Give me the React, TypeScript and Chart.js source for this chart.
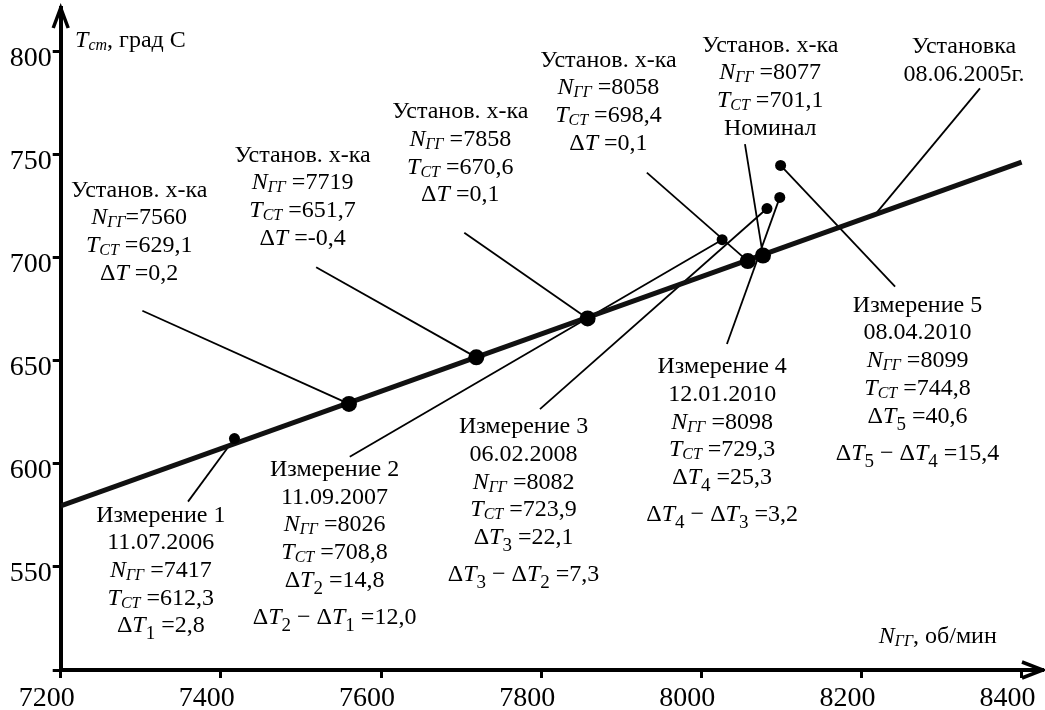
import React, { useEffect, useRef } from 'react';
import { Chart, registerables } from 'chart.js';

Chart.register(...registerables);

// ---- axes ----
const X_MIN = 7200;
const X_MAX = 8426.7;
const Y_MIN = 500;
const Y_MAX = 821.2;
const xTickValues = [7200, 7400, 7600, 7800, 8000, 8200, 8400];
const yTickValues = [500, 550, 600, 650, 700, 750, 800];

// ---- baseline characteristic "Установка 08.06.2005г." ----
const baseN = [7200, 8400];
const baseT = [579.6, 746.4];
const installTitle = ['Установка', '08.06.2005г.'];
const installLeadN = 8217;

// ---- "Установ. х-ка" points ----
const setN = [7560, 7719, 7858, 8058, 8077];
const setT = [629.1, 651.7, 670.6, 698.4, 701.1];
const setDT: (number | null)[] = [0.2, -0.4, 0.1, 0.1, null];

// ---- measurements ----
const measDates = ['11.07.2006', '11.09.2007', '06.02.2008', '12.01.2010', '08.04.2010'];
const measN = [7417, 8026, 8082, 8098, 8099];
const measT = [612.3, 708.8, 723.9, 729.3, 744.8];
const measDT = [2.8, 14.8, 22.1, 25.3, 40.6];
const measDiff: (number | null)[] = [null, 12.0, 7.3, 3.2, 15.4];

// ---- annotation anchors (data units) ----
const setLabelN = [7298, 7502, 7699, 7884, 8086];
const setLabelT = [729.6, 746.6, 767.7, 792.7, 800.0];
const setLeadN = [7302, 7519, 7704, 7932, 8054.5];
const setLeadT = [674.3, 695.4, 712.2, 741.3, 755.2];
const measLabelN = [7325, 7542, 7778, 8026, 8270];
const measLabelT = [572.0, 594.1, 614.8, 644.0, 673.8];
const measLeadN = [7359, 7561, 7798.5, 8032, 8242];
const measLeadT = [581.7, 603.5, 626.6, 658.2, 686.0];
const installLabelN = 8328;
const installLabelT = 799.2;
const installLeadStartN = 8348;
const installLeadStartT = 782.2;
const yTitleN = 7218;
const yTitleT = 802.4;
const xTitleN = 8369;
const xTitleT = 513.0;

// ---- styles ----
const FAMILY = '"Liberation Serif", "Times New Roman", serif';
const MAIN = 24;
const SUB_L = 16;
const SUB_D = 19;
const LINE_H = 27.7;
const DIFF_GAP = 37;

type Seg = { t: string; it?: boolean; sub?: 'l' | 'd' };
const rm = (t: string): Seg => ({ t });
const it = (t: string): Seg => ({ t, it: true });
const subL = (t: string): Seg => ({ t, it: true, sub: 'l' });
const subD = (t: string): Seg => ({ t, sub: 'd' });

const fmt = (v: number) => v.toFixed(1).replace('.', ',');
const lerpBase = (n: number) =>
  baseT[0] + ((n - baseN[0]) / (baseN[1] - baseN[0])) * (baseT[1] - baseT[0]);

type Block = { n: number; t: number; lines: { segs: Seg[]; gap: number }[]; align: 'center' | 'left' | 'right' };

function buildBlocks(): Block[] {
  const blocks: Block[] = [];
  setN.forEach((n, i) => {
    const lines: { segs: Seg[]; gap: number }[] = [];
    lines.push({ segs: [rm('Установ. х-ка')], gap: 0 });
    lines.push({ segs: [it('N'), subL('ГГ'), rm((i === 0 ? '=' : ' =') + n)], gap: LINE_H });
    lines.push({ segs: [it('T'), subL('СТ'), rm(' =' + fmt(setT[i]))], gap: LINE_H });
    const dt = setDT[i];
    if (dt !== null) lines.push({ segs: [rm('Δ'), it('T'), rm(' =' + fmt(dt))], gap: LINE_H });
    else lines.push({ segs: [rm('Номинал')], gap: LINE_H });
    blocks.push({ n: setLabelN[i], t: setLabelT[i], lines, align: 'center' });
  });
  measN.forEach((n, i) => {
    const k = String(i + 1);
    const lines: { segs: Seg[]; gap: number }[] = [];
    lines.push({ segs: [rm('Измерение ' + k)], gap: 0 });
    lines.push({ segs: [rm(measDates[i])], gap: LINE_H });
    lines.push({ segs: [it('N'), subL('ГГ'), rm(' =' + n)], gap: LINE_H });
    lines.push({ segs: [it('T'), subL('СТ'), rm(' =' + fmt(measT[i]))], gap: LINE_H });
    lines.push({ segs: [rm('Δ'), it('T'), subD(k), rm(' =' + fmt(measDT[i]))], gap: LINE_H });
    const d = measDiff[i];
    if (d !== null)
      lines.push({
        segs: [rm('Δ'), it('T'), subD(k), rm(' − Δ'), it('T'), subD(String(i)), rm(' =' + fmt(d))],
        gap: DIFF_GAP,
      });
    blocks.push({ n: measLabelN[i], t: measLabelT[i], lines, align: 'center' });
  });
  blocks.push({
    n: installLabelN,
    t: installLabelT,
    lines: installTitle.map((s, i) => ({ segs: [rm(s)], gap: i === 0 ? 0 : LINE_H })),
    align: 'center',
  });
  blocks.push({
    n: yTitleN,
    t: yTitleT,
    lines: [{ segs: [it('T'), subL('ст'), rm(', град С')], gap: 0 }],
    align: 'left',
  });
  blocks.push({
    n: xTitleN,
    t: xTitleT,
    lines: [{ segs: [it('N'), subL('ГГ'), rm(', об/мин')], gap: 0 }],
    align: 'right',
  });
  return blocks;
}

function fontOf(s: Seg) {
  const size = s.sub === 'l' ? SUB_L : s.sub === 'd' ? SUB_D : MAIN;
  return `${s.it ? 'italic ' : ''}${size}px ${FAMILY}`;
}
function dyOf(s: Seg) {
  return s.sub === 'l' ? 3 : s.sub === 'd' ? 7 : 0;
}

function drawRich(ctx: CanvasRenderingContext2D, segs: Seg[], x0: number, y: number, align: string) {
  const parts = segs.map((s) => {
    ctx.font = fontOf(s);
    return { s, w: ctx.measureText(s.t).width };
  });
  const total = parts.reduce((a, p) => a + p.w, 0);
  let x = align === 'center' ? x0 - total / 2 : align === 'right' ? x0 - total : x0;
  for (const p of parts) {
    ctx.font = fontOf(p.s);
    ctx.fillText(p.s.t, x, y + dyOf(p.s));
    x += p.w;
  }
}

const annotationPlugin = {
  id: 'annotations',
  afterDraw(chart: any) {
    const ctx: CanvasRenderingContext2D = chart.ctx;
    const xs = chart.scales.x;
    const ys = chart.scales.y;
    const { left, right, top, bottom } = chart.chartArea;
    ctx.save();
    // arrows
    ctx.strokeStyle = '#000';
    ctx.lineWidth = 3.5;
    ctx.lineJoin = 'miter';
    ctx.beginPath();
    ctx.moveTo(left - 7.5, top + 20);
    ctx.lineTo(left, top);
    ctx.lineTo(left + 7.5, top + 20);
    ctx.stroke();
    ctx.beginPath();
    ctx.moveTo(right - 21, bottom - 8);
    ctx.lineTo(right, bottom);
    ctx.lineTo(right - 21, bottom + 8);
    ctx.stroke();
    // texts
    ctx.fillStyle = '#000';
    ctx.textBaseline = 'alphabetic';
    ctx.textAlign = 'left';
    for (const b of buildBlocks()) {
      const x = xs.getPixelForValue(b.n);
      let y = ys.getPixelForValue(b.t);
      for (const ln of b.lines) {
        y += ln.gap;
        drawRich(ctx, ln.segs, x, y, b.align);
      }
    }
    ctx.restore();
  },
};

export default function App() {
  const ref = useRef<HTMLCanvasElement | null>(null);
  useEffect(() => {
    if (!ref.current) return;
    const lead = (a: [number, number], b: [number, number]) => ({
      data: [
        { x: a[0], y: a[1] },
        { x: b[0], y: b[1] },
      ],
      showLine: true,
      borderColor: '#000',
      borderWidth: 1.8,
      pointRadius: 0,
      order: 3,
    });
    const leads = [
      ...setN.map((n, i) => lead([setLeadN[i], setLeadT[i]], [n, setT[i]])),
      ...measN.map((n, i) => lead([measLeadN[i], measLeadT[i]], [n, measT[i]])),
      lead([installLeadStartN, installLeadStartT], [installLeadN, lerpBase(installLeadN)]),
    ];
    const chart = new Chart(ref.current, {
      type: 'scatter',
      data: {
        datasets: [
          {
            data: setN.map((n, i) => ({ x: n, y: setT[i] })),
            pointRadius: 8,
            pointBackgroundColor: '#000',
            pointBorderColor: '#000',
            pointBorderWidth: 0,
            showLine: false,
            order: 0,
          },
          {
            data: measN.map((n, i) => ({ x: n, y: measT[i] })),
            pointRadius: 5.5,
            pointBackgroundColor: '#000',
            pointBorderColor: '#000',
            pointBorderWidth: 0,
            showLine: false,
            order: 1,
          },
          {
            data: baseN.map((n, i) => ({ x: n, y: baseT[i] })),
            showLine: true,
            borderColor: '#111',
            borderWidth: 5,
            pointRadius: 0,
            order: 2,
          },
          ...leads,
        ] as any,
      },
      plugins: [annotationPlugin],
      options: {
        animation: false,
        responsive: false,
        events: [],
        layout: { padding: { left: 0, right: 2, top: 8, bottom: 0 }, autoPadding: false } as any,
        plugins: { legend: { display: false }, tooltip: { enabled: false } },
        scales: {
          x: {
            type: 'linear',
            min: X_MIN,
            max: X_MAX,
            ticks: {
              autoSkip: false,
              color: '#000',
              font: { family: FAMILY, size: 28 },
              padding: 4,
              labelOffset: -14,
              maxRotation: 0,
              minRotation: 0,
              callback: (v: any) => String(v),
            },
            grid: {
              display: true,
              drawOnChartArea: false,
              drawTicks: true,
              tickLength: 8,
              tickWidth: 3,
              tickColor: '#000',
            },
            border: { display: true, color: '#000', width: 4 },
            afterBuildTicks: (s: any) => {
              s.ticks = xTickValues.map((v) => ({ value: v }));
            },
            afterFit: (s: any) => {
              s.height = 40;
              s.paddingLeft = 0;
              s.paddingRight = 0;
            },
          },
          y: {
            type: 'linear',
            min: Y_MIN,
            max: Y_MAX,
            ticks: {
              autoSkip: false,
              color: '#000',
              font: { family: FAMILY, size: 28 },
              padding: 1,
              labelOffset: 7,
              callback: (v: any) => (v === Y_MIN ? '' : String(v)),
            },
            grid: {
              display: true,
              drawOnChartArea: false,
              drawTicks: true,
              tickLength: 8,
              tickWidth: 3,
              tickColor: '#000',
            },
            border: { display: true, color: '#000', width: 4 },
            afterBuildTicks: (s: any) => {
              s.ticks = yTickValues.map((v) => ({ value: v }));
            },
            afterFit: (s: any) => {
              s.width = 60.7;
              s.paddingTop = 0;
              s.paddingBottom = 0;
            },
          },
        },
      } as any,
    });
    return () => chart.destroy();
  }, []);
  return (
    <div style={{ position: 'absolute', left: 0, top: 0, width: 1045, height: 710, background: '#fff' }}>
      <canvas ref={ref} width={1045} height={710} />
    </div>
  );
}
